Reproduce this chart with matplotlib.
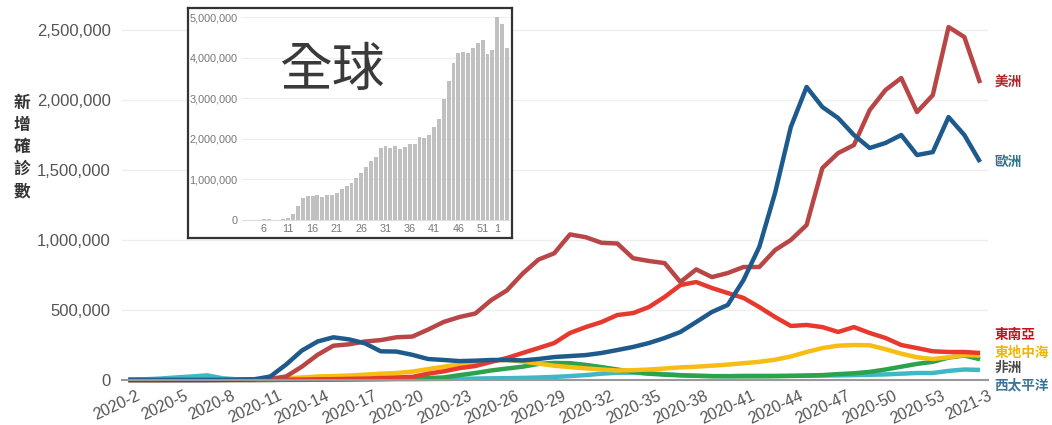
import numpy as np
import matplotlib
matplotlib.use('Agg')
import matplotlib.pyplot as plt
from matplotlib.transforms import ScaledTranslation
from matplotlib.ticker import FuncFormatter

# week categories 2020-2 .. 2021-3
weeks = [f"2020-{w}" for w in range(2, 54)] + ["2021-1", "2021-2", "2021-3"]

# weekly new cases, thousands
americas = [0, 0, 0, 0, 0, 1, 1, 2, 3, 8, 25, 95, 180, 245, 255, 275, 285, 305, 310, 360,
            415, 450, 475, 570, 640, 760, 860, 905, 1040, 1020, 980, 975, 870, 850, 835, 700,
            790, 735, 764, 807, 807, 928, 1000, 1107, 1514, 1621, 1678, 1928, 2071, 2157,
            1914, 2035, 2521, 2450, 2121]
europe = [0, 0, 0, 0, 0, 0, 1, 2, 5, 25, 110, 210, 275, 305, 290, 262, 205, 203, 180, 150,
          143, 135, 138, 143, 143, 140, 150, 164, 171, 178, 193, 214, 236, 264, 300, 343,
          414, 486, 536, 714, 950, 1336, 1807, 2093, 1950, 1871, 1750, 1657, 1693, 1750,
          1607, 1628, 1878, 1750, 1557]
se_asia = [0, 0, 0, 0, 0, 0, 0, 0, 0, 1, 2, 3, 5, 6, 8, 10, 14, 18, 22, 45,
           62, 85, 100, 129, 157, 193, 228, 264, 336, 378, 414, 464, 478, 521, 593, 678,
           700, 657, 621, 586, 521, 450, 386, 393, 378, 343, 378, 336, 300, 250,
           228, 205, 200, 200, 193]
e_med = [0, 0, 0, 1, 2, 3, 4, 5, 6, 8, 12, 18, 25, 28, 32, 38, 45, 50, 60, 78,
         95, 113, 128, 140, 143, 132, 117, 102, 92, 83, 75, 68, 70, 75, 82, 90,
         95, 102, 110, 120, 130, 145, 168, 200, 228, 245, 250, 248, 220, 188,
         162, 150, 162, 178, 175]
africa = [0, 0, 0, 0, 0, 0, 0, 0, 0, 0, 1, 1, 2, 3, 4, 5, 7, 9, 11, 14,
          18, 35, 50, 68, 82, 95, 115, 122, 120, 108, 92, 75, 58, 45, 38, 33,
          30, 27, 26, 26, 26, 27, 29, 32, 35, 42, 48, 58, 75, 95,
          115, 130, 160, 175, 148]
w_pacific = [2, 5, 10, 18, 25, 33, 12, 4, 3, 3, 3, 3, 4, 4, 4, 5, 5, 6, 6, 7,
             8, 9, 10, 12, 13, 15, 18, 22, 28, 35, 45, 52, 52, 47, 42, 35,
             30, 28, 28, 30, 30, 30, 30, 30, 32, 33, 35, 37, 40, 45,
             50, 50, 65, 75, 72]
# global weekly totals, thousands
global_total = [2, 3, 5, 10, 20, 25, 8, 12, 25, 40, 150, 355, 535, 600, 585, 615, 570, 615, 615, 675,
                757, 840, 905, 1045, 1170, 1315, 1455, 1560, 1770, 1825, 1785, 1835, 1760, 1800,
                1875, 1875, 2055, 2030, 2100, 2300, 2490, 2975, 3430, 3865, 4130, 4155, 4130,
                4235, 4360, 4440, 4090, 4195, 5000, 4830, 4235]

series = [
    (w_pacific, '#3fb8c6'),
    (africa, '#2ba24c'),
    (e_med, '#f7bd12'),
    (se_asia, '#e8392e'),
    (americas, '#b94646'),
    (europe, '#1f5a8c'),
]
labels = [("美洲", 2121e3, '#b0282c'), ("歐洲", 1557e3, '#2f7585'),
          ("東南亞", 321e3, '#c4121f'), ("東地中海", 193e3, '#f2b600'),
          ("非洲", 86e3, '#4a4a4a'), ("西太平洋", -36e3, '#3c7396')]

cjk = ['Noto Sans CJK TC', 'DejaVu Sans']
plt.rcParams['font.family'] = ['Liberation Sans', 'DejaVu Sans']

W, H = 1052, 425
fig = plt.figure(figsize=(W / 100, H / 100), dpi=100)
ax = fig.add_axes([122 / W, 45 / H, 866 / W, 364 / H])
x = np.arange(len(weeks))

for vals, col in series:
    ax.plot(x, np.array(vals) * 1000, color=col, lw=3.2, solid_joinstyle='round',
            solid_capstyle='butt', clip_on=False)

ax.set_xlim(-0.4, 54.5)
ax.set_ylim(0, 2.6e6)
ax.set_yticks(np.arange(0, 2.6e6, 5e5))
ax.yaxis.set_major_formatter(FuncFormatter(lambda v, p: f"{int(v):,}"))
ax.grid(axis='y', color='#eeeeee', lw=1)
ax.set_axisbelow(True)
for s in ['top', 'right', 'left']:
    ax.spines[s].set_visible(False)
ax.spines['bottom'].set_color('#999999')
ax.spines['bottom'].set_linewidth(1.5)
ax.tick_params(axis='y', length=0, pad=8, labelsize=12, labelcolor='#555555')
ax.set_xticks(x[::3])
ax.set_xticklabels(weeks[::3])
ax.tick_params(axis='x', length=0, pad=6, labelsize=11.5, labelcolor='#555555')
off = ScaledTranslation(8 / 100, 0, fig.dpi_scale_trans)
for lab in ax.get_xticklabels():
    lab.set_rotation(25)
    lab.set_ha('right')
    lab.set_va('top')
    lab.set_rotation_mode('anchor')
    lab.set_transform(lab.get_transform() + off)

for name, yv, col in labels:
    ax.text(54.9, yv, name, color=col, fontsize=9.8, fontweight='bold', family=cjk,
            ha='left', va='center', clip_on=False)

fig.text(22 / W, 1 - 147 / H, "新\n增\n確\n診\n數", family=cjk, fontsize=12,
         fontweight='bold', color='#333333', ha='center', va='center', linespacing=1.3)

# inset: global totals
box = fig.add_axes([188 / W, 1 - 238 / H, 324 / W, 230 / H], zorder=2)
box.set_facecolor('white')
box.set_xticks([])
box.set_yticks([])
for s in box.spines.values():
    s.set_color('#333333')
    s.set_linewidth(1.6)

ins = fig.add_axes([241.6 / W, 1 - 220 / H, 268.3 / W, 206 / H], zorder=3)
ins.patch.set_alpha(0)
ins.bar(x, np.array(global_total) * 1000, width=0.8, color='#c0c0c0')
ins.set_xlim(-0.6, 54.6)
ins.set_ylim(0, 5.08e6)
ins.set_yticks(np.arange(0, 5.1e6, 1e6))
ins.yaxis.set_major_formatter(FuncFormatter(lambda v, p: f"{int(v):,}"))
ins.grid(axis='y', color='#eeeeee', lw=0.8)
ins.set_axisbelow(True)
for s in ['top', 'right', 'left']:
    ins.spines[s].set_visible(False)
ins.spines['bottom'].set_color('#dddddd')
tick_idx = list(range(4, 52, 5)) + [52]
ins.set_xticks(tick_idx)
ins.set_xticklabels([weeks[i].split('-')[1] for i in tick_idx])
ins.tick_params(length=0, labelsize=7.8, labelcolor='#777777', pad=3)

fig.text(332 / W, 1 - 70 / H, "全球", family=cjk, fontsize=38, fontweight='medium',
         color='#3a3a3a', ha='center', va='center', zorder=5)

fig.savefig('out.png', dpi=100)
